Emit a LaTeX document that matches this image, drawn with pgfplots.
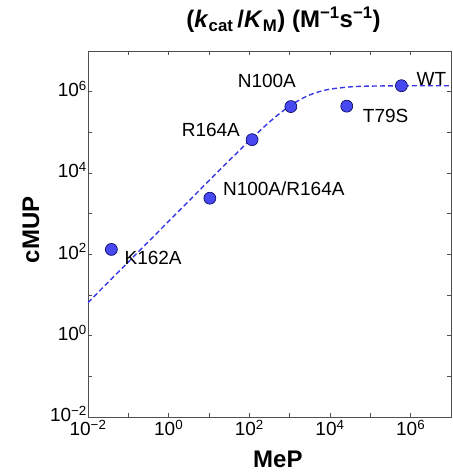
\documentclass[border=0pt]{standalone}
\usepackage{fontspec}
\setmainfont{Liberation Sans}
\usepackage{pgfplots}
\pgfplotsset{compat=1.18}
\definecolor{ptblue}{RGB}{72,72,240}
\definecolor{lnblue}{RGB}{55,55,230}
\definecolor{axgray}{RGB}{80,80,80}
\begin{document}
\begin{tikzpicture}
\begin{axis}[
  scale only axis, width=363pt, height=366pt,
  xmode=log, ymode=log,
  xmin=1e-2, xmax=1e7, ymin=1e-2, ymax=1e7,
  xtick={1e-2,1e-1,1,10,100,1e3,1e4,1e5,1e6,1e7},
  xticklabels={10\textsuperscript{−2},,10\textsuperscript{0},,10\textsuperscript{2},,10\textsuperscript{4},,10\textsuperscript{6},},
  ytick={1e-2,1e-1,1,10,100,1e3,1e4,1e5,1e6,1e7},
  yticklabels={10\textsuperscript{−2},,10\textsuperscript{0},,10\textsuperscript{2},,10\textsuperscript{4},,10\textsuperscript{6},},
  xminorticks=false, yminorticks=false,
  tick align=inside, major tick length=4pt,
  axis line style={axgray, line width=0.8pt},
  tick style={axgray, line width=0.7pt},
  ticklabel style={font=\fontsize{19}{19}\selectfont},
  xticklabel style={anchor=north, inner sep=0pt, yshift=-3pt},
  yticklabel style={anchor=east, inner sep=0pt, xshift=-1pt, yshift=3pt},
  xlabel={MeP}, ylabel={cMUP},
  label style={font=\fontsize{24}{24}\selectfont\bfseries},
  xlabel style={at={(axis description cs:0.523,-0.117)}, anchor=center},
  ylabel style={at={(axis description cs:-0.157,0.511)}, anchor=center},
  title={(\textit{k}\textsubscript{cat}\,/\textit{K}\textsubscript{M}) (M\textsuperscript{−1}s\textsuperscript{−1})},
  title style={font=\fontsize{24}{24}\selectfont\bfseries, at={(axis description cs:0.5386,1.068)}, anchor=center},
  clip mode=individual,
]
% fitted curve
\addplot[lnblue, line width=1.4pt, dash pattern=on 5pt off 3pt, smooth] coordinates {
  (0.01,6.5) (0.1,65) (1,649.7) (10,6470) (31.62,20243) (100,62116)
  (200,118954) (316.2,179219) (500,263766) (1000,443902) (2000,674071)
  (3162,832739) (5000,978483) (10000,1151884) (31620,1310690)
  (100000,1370470) (1000000,1396970) (10000000,1399700)
};
% data points
\addplot[only marks, mark=*, mark size=6pt,
  mark options={fill=ptblue, draw=blue!35!black, line width=0.6pt}] coordinates {
  (0.038,132) (10.5,2400) (117,66000) (1070,430000) (26000,440000) (590000,1400000)
};
\begin{scope}[every node/.style={font=\fontsize{19}{19}\selectfont, inner sep=0pt}]
\node[anchor=west] at ([xshift=15pt,yshift=7pt]axis cs:590000,1400000) {WT};
\node[anchor=center] at ([xshift=-24pt,yshift=26pt]axis cs:1070,430000) {N100A};
\node[anchor=west] at ([xshift=16pt,yshift=-10pt]axis cs:26000,440000) {T79S};
\node[anchor=east] at ([xshift=-12pt,yshift=10pt]axis cs:117,66000) {R164A};
\node[anchor=west] at ([xshift=13pt,yshift=9pt]axis cs:10.5,2400) {N100A/R164A};
\node[anchor=west] at ([xshift=13pt,yshift=-9pt]axis cs:0.038,132) {K162A};
\end{scope}
\end{axis}
\pgfresetboundingbox
\path ([xshift=-88pt,yshift=-56pt]current axis.south west) rectangle ([xshift=1pt,yshift=51pt]current axis.north east);
\end{tikzpicture}
\end{document}
